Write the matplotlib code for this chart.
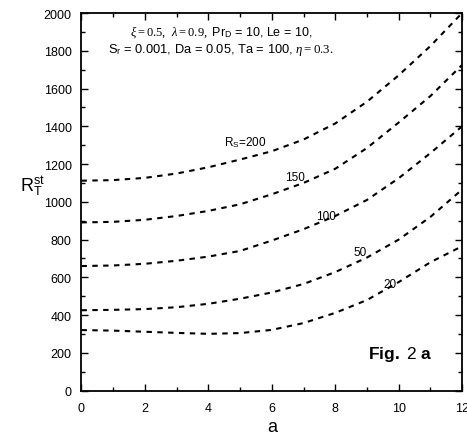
import matplotlib
matplotlib.use("Agg")
import matplotlib.pyplot as plt
from matplotlib.ticker import MultipleLocator

plt.rcParams['font.family'] = ['Liberation Sans', 'DejaVu Sans']
plt.rcParams['mathtext.fontset'] = 'custom'
plt.rcParams['mathtext.rm'] = 'Liberation Serif'
plt.rcParams['mathtext.it'] = 'Liberation Serif:italic'
plt.rcParams['mathtext.sf'] = 'Liberation Sans'
plt.rcParams['mathtext.bf'] = 'Liberation Sans:bold'

# wave number a
a_vals = [0, 1, 2, 3, 4, 5, 6, 7, 8, 9, 10, 11, 12]
# stationary Rayleigh number R_T^st for each R_s
rt_rs200 = [1112, 1115, 1127, 1150, 1183, 1224, 1268, 1330, 1415, 1530, 1670, 1825, 2000]
rt_rs150 = [891, 894, 905, 925, 952, 987, 1040, 1100, 1175, 1285, 1420, 1560, 1725]
rt_rs100 = [660, 663, 672, 688, 710, 740, 795, 855, 925, 1010, 1125, 1258, 1400]
rt_rs50 = [426, 428, 432, 442, 460, 487, 520, 565, 628, 705, 800, 920, 1065]
rt_rs20 = [321, 318, 312, 306, 301, 305, 322, 358, 412, 480, 575, 680, 765]

curve_labels = [r'R$_{\mathsf{S}}$=200', '150', '100', '50', '20']
label_pos = [(5.17, 1317), (6.74, 1130), (7.72, 925), (8.78, 734), (9.73, 565)]

fig = plt.figure(figsize=(4.67, 4.39), dpi=100)
ax = fig.add_axes([0.1745, 0.1078, 0.8150, 0.8603])

for ys in [rt_rs200, rt_rs150, rt_rs100, rt_rs50, rt_rs20]:
    ax.plot(a_vals, ys, color='black', lw=1.5, linestyle=(0, (2.6, 2.6)))

for lab, (x, y) in zip(curve_labels, label_pos):
    ax.text(x, y, lab, fontsize=8.5, ha='center', va='center')

ax.set_xlim(0, 12)
ax.set_ylim(0, 2000)
ax.xaxis.set_major_locator(MultipleLocator(2))
ax.xaxis.set_minor_locator(MultipleLocator(1))
ax.yaxis.set_major_locator(MultipleLocator(200))
ax.yaxis.set_minor_locator(MultipleLocator(100))
ax.tick_params(which='both', direction='in', top=True, right=True, labelsize=9, width=1)
ax.tick_params(which='major', length=5)
ax.tick_params(which='minor', length=3)
ax.tick_params(axis='x', which='major', pad=8)
ax.tick_params(axis='y', which='major', pad=7)
for s in ax.spines.values():
    s.set_linewidth(1.3)

ax.set_xlabel('a', fontsize=13, labelpad=3)
fig.text(20/467, 1-186/439, r'R$^{\mathsf{st}}_{\mathsf{T}}$', fontsize=13, ha='left', va='center')

fig.text(130/467, 1-32/439, r'$\xi = 0.5,\;\; \lambda = 0.9,$ Pr$_{\mathsf{D}}$ = 10, Le = 10,',
         fontsize=9, ha='left', va='center')
fig.text(108/467, 1-50/439, r'S$_{\mathsf{r}}$ = 0.001, Da = 0.05, Ta = 100, $\eta = 0.3.$',
         fontsize=9.3, ha='left', va='center')

ax.text(10.06, 195, r'$\mathbf{Fig.}$ 2 $\mathbf{a}$', fontsize=12.5, ha='center', va='center')

fig.savefig('out.png', dpi=100)
